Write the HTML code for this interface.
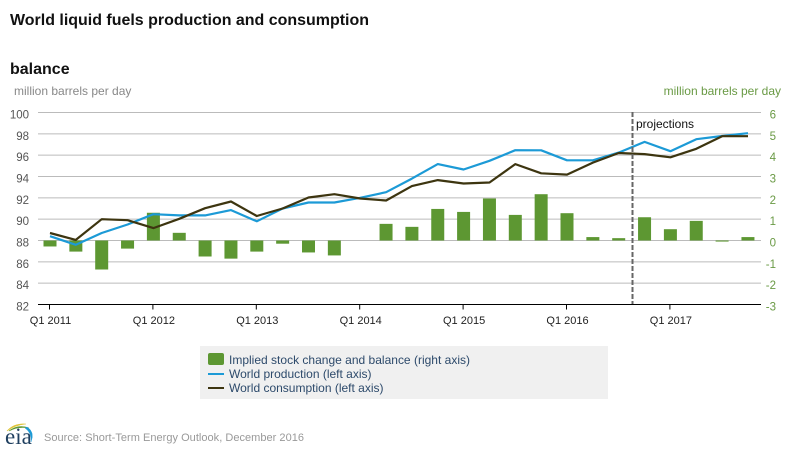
<!DOCTYPE html>
<html>
<head>
<meta charset="utf-8">
<title>World liquid fuels production and consumption</title>
<style>
html,body{margin:0;padding:0;background:#fff;width:800px;height:450px;overflow:hidden}
svg{display:block;font-family:"Liberation Sans",Arial,sans-serif}
</style>
</head>
<body>
<svg id="chart" width="800" height="450" viewBox="0 0 800 450" xmlns="http://www.w3.org/2000/svg">
  <text x="10" y="25" font-size="16" font-weight="bold" fill="#111" textLength="359" lengthAdjust="spacingAndGlyphs">World liquid fuels production and consumption</text>
  <text x="10" y="74" font-size="16" font-weight="bold" fill="#111">balance</text>
  <text x="14" y="95" font-size="12" fill="#888">million barrels per day</text>
  <text x="781" y="95" font-size="12" fill="#6a9a45" text-anchor="end">million barrels per day</text>
  <g id="grid"></g>
  <g id="bars"></g>
  <g id="lines"></g>
  <g id="axes"></g>
  <line x1="632.5" y1="112" x2="632.5" y2="304" stroke="#666" stroke-width="2" stroke-dasharray="5 2"></line>
  <text x="636" y="128" font-size="12" fill="#111">projections</text>

  <g>
    <rect x="200" y="346" width="408" height="53" fill="#f0f0f0"></rect>
    <rect x="208" y="353" width="16" height="12" rx="2" fill="#5d9732"></rect>
    <text x="229" y="364" font-size="12" fill="#2d4a6b" textLength="241">Implied stock change and balance (right axis)</text>
    <line x1="208" y1="374" x2="224" y2="374" stroke="#1c9ad6" stroke-width="2"></line>
    <text x="229" y="378" font-size="12" fill="#2d4a6b">World production (left axis)</text>
    <line x1="208" y1="388" x2="224" y2="388" stroke="#3d3510" stroke-width="2"></line>
    <text x="229" y="392" font-size="12" fill="#2d4a6b">World consumption (left axis)</text>
  </g>

  <g>
    <path d="M7 431 Q14 423 26 424 Q15 425 7 431Z" fill="#e0c53a" stroke="#e0c53a" stroke-width="0.6"></path>
    <path d="M9 431 Q18 424 29 428 Q18 426 9 431Z" fill="#5d9732" stroke="#5d9732" stroke-width="0.6"></path>
    <path d="M27 427 Q35 432 31 442 Q32 433 25 428Z" fill="#1c9ad6" stroke="#1c9ad6" stroke-width="0.4"></path>
    <text x="5" y="444" font-size="23" fill="#1f3f5f" style="font-family:'Liberation Serif',serif">eia</text>
  </g>
  <text x="44" y="441" font-size="11" fill="#999" textLength="260">Source: Short-Term Energy Outlook, December 2016</text>
</svg>
<script>
const yearLabels = ["Q1 2011","Q1 2012","Q1 2013","Q1 2014","Q1 2015","Q1 2016","Q1 2017"];
const leftTicks = [82,84,86,88,90,92,94,96,98,100];
const rightTicks = [-3,-2,-1,0,1,2,3,4,5,6];
const stockChange = [-0.28,-0.52,-1.36,-0.38,1.3,0.36,-0.75,-0.85,-0.52,-0.15,-0.56,-0.7,0,0.78,0.64,1.48,1.34,1.97,1.2,2.17,1.28,0.16,0.11,1.09,0.53,0.92,-0.05,0.16];
const production = [88.4,87.6,88.7,89.5,90.47,90.35,90.35,90.85,89.8,91.0,91.56,91.56,92.0,92.53,93.8,95.16,94.66,95.47,96.47,96.46,95.52,95.52,96.24,97.24,96.37,97.5,97.8,98.06];
const consumption = [88.7,88.06,90.0,89.9,89.16,90.03,91.03,91.66,90.3,91.0,92.03,92.34,91.94,91.75,93.1,93.66,93.34,93.44,95.16,94.3,94.18,95.3,96.2,96.1,95.8,96.6,97.78,97.78];

const NS = 'http://www.w3.org/2000/svg';
const plotTop = 112.5, plotBottom = 304.5, plotLeft = 38, plotRight = 761;
function xAt(i){ return 50 + i * 25.85; }
function yLeft(v){ return plotBottom - (v - 82) / 18 * (plotBottom - plotTop); }
function yRight(v){ return plotBottom - (v + 3) / 9 * (plotBottom - plotTop); }
function make(tag, attrs, parent){
  const el = document.createElementNS(NS, tag);
  for (const k in attrs) el.setAttribute(k, attrs[k]);
  parent.appendChild(el);
  return el;
}
const grid = document.getElementById('grid');
const bars = document.getElementById('bars');
const linesG = document.getElementById('lines');
const axes = document.getElementById('axes');

leftTicks.forEach(function(t){
  if (t !== 82) {
    const gl = make('line', {x1: plotLeft, x2: plotRight, y1: yLeft(t), y2: yLeft(t), stroke: '#bbbbbb', 'stroke-width': 1}, grid);
    
    
  }
  const lab = make('text', {x: 29, y: yLeft(t) + 6, 'font-size': 11.5, fill: '#555', 'text-anchor': 'end'}, axes);
  lab.textContent = t;
  
  
});
rightTicks.forEach(function(t){
  const lab = make('text', {x: 776, y: yRight(t) + 6, 'font-size': 11.5, fill: '#6a9a45', 'text-anchor': 'end'}, axes);
  lab.textContent = t;
  
  
});
stockChange.forEach(function(v, i){
  const top = Math.min(yRight(v), yRight(0));
  const b = make('rect', {x: xAt(i) - 6.5, y: top, width: 13, height: Math.abs(yRight(v) - yRight(0)), fill: '#5d9732'}, bars);
  
  
});
function drawLine(values, yFn, color, name){
  const pts = values.map(function(v, i){ return xAt(i).toFixed(1) + ',' + yFn(v).toFixed(1); }).join(' ');
  const p = make('polyline', {points: pts, fill: 'none', stroke: color, 'stroke-width': 2.2, 'stroke-linejoin': 'round'}, linesG);
  
  
}
drawLine(production, yLeft, '#1c9ad6', 'world-production-line');
drawLine(consumption, yLeft, '#3d3510', 'world-consumption-line');

const axisLine = make('line', {x1: plotLeft, x2: plotRight, y1: plotBottom, y2: plotBottom, stroke: '#000', 'stroke-width': 1}, axes);


yearLabels.forEach(function(l, k){
  const x = xAt(k * 4) - 0.5;
  const tick = make('line', {x1: x, x2: x, y1: plotBottom, y2: plotBottom + 5, stroke: '#000', 'stroke-width': 1}, axes);
  
  
  const lab = make('text', {x: x + 1, y: 324, 'font-size': 11, fill: '#222', 'text-anchor': 'middle'}, axes);
  lab.textContent = l;
  
  
});
</script>
</body>
</html>
